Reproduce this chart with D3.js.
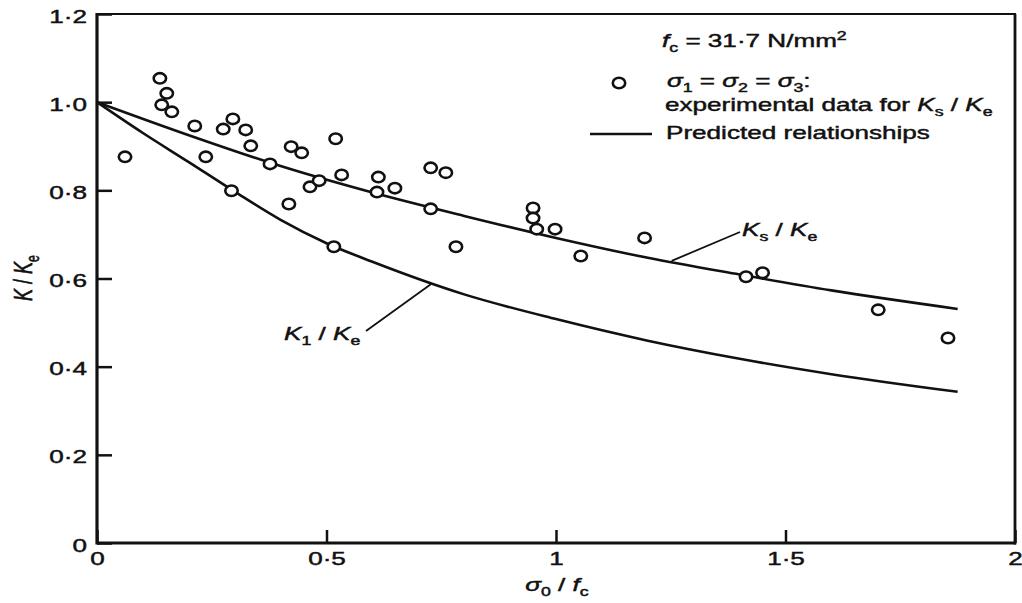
<!DOCTYPE html>
<html>
<head>
<meta charset="utf-8">
<script src="https://cdn.jsdelivr.net/npm/d3@7"></script>
<style>
  html, body { margin: 0; padding: 0; background: #fff; }
  svg { display: block; }
</style>
</head>
<body>
<svg id="chart"></svg>
<script>
// K / Ke against sigma0 / fc: experimental points and two predicted curves

// experimental data for Ks / Ke
const pointX = [0.061, 0.137, 0.152, 0.141, 0.163, 0.213, 0.237, 0.275, 0.296, 0.324,
                0.335, 0.293, 0.377, 0.423, 0.446, 0.418, 0.464, 0.484, 0.520, 0.533,
                0.516, 0.613, 0.610, 0.649, 0.727, 0.760, 0.727, 0.782, 0.950, 0.950,
                0.958, 0.998, 1.054, 1.193, 1.414, 1.450, 1.702, 1.854];
const pointY = [0.876, 1.054, 1.020, 0.994, 0.978, 0.946, 0.876, 0.939, 0.962, 0.937,
                0.901, 0.799, 0.860, 0.899, 0.885, 0.769, 0.808, 0.822, 0.917, 0.835,
                0.672, 0.830, 0.796, 0.805, 0.851, 0.840, 0.758, 0.672, 0.760, 0.737,
                0.712, 0.712, 0.651, 0.692, 0.604, 0.613, 0.529, 0.465];

// predicted relationships
const ksX = [0, 0.2, 0.4, 0.6, 0.8, 1.0, 1.2, 1.4, 1.6, 1.875];
const ksY = [1.0, 0.925, 0.855, 0.795, 0.742, 0.692, 0.647, 0.609, 0.573, 0.531];
const k1X = [0, 0.1, 0.2, 0.3, 0.4, 0.5, 0.6, 0.8, 1.0, 1.2, 1.4, 1.6, 1.875];
const k1Y = [1.0, 0.930, 0.864, 0.797, 0.733, 0.680, 0.638, 0.564, 0.508, 0.459, 0.418, 0.383, 0.343];

const xTicks = [0, 0.5, 1, 1.5, 2];
const yTicks = [0, 0.2, 0.4, 0.6, 0.8, 1.0, 1.2];

const W = 1022, H = 603;
const LEFT = 97, RIGHT = 1015, TOP = 14, BOTTOM = 543;
const INK = '#111';
const FONT = '"Liberation Sans", Arial, Helvetica, sans-serif';
const FS = 18;
const SX = 1.45;   // the scan is stretched sideways
const TEXT_STROKE = 0.45;
const DOT_RX = 6.2, DOT_RY = 5.2;

const svg = d3.select('#chart').attr('width', W).attr('height', H)
    .attr('font-family', FONT).attr('fill', INK);

svg.append('rect').attr('width', W).attr('height', H).attr('fill', '#fff');

const x = d3.scaleLinear().domain([0, 2]).range([LEFT, RIGHT]);
const y = d3.scaleLinear().domain([0, 1.2]).range([BOTTOM, TOP]);

// text built from parts, with italic and sub/superscripts
function richText(parent, tx, ty, parts, anchor, transformTail) {
    const t = parent.append('text')
        .attr('transform', `translate(${tx},${ty}) ${transformTail || `scale(${SX},1)`}`)
        .attr('font-size', FS)
        .attr('text-anchor', anchor || 'start')
        .attr('fill', INK)
        .attr('stroke', INK).attr('stroke-width', TEXT_STROKE);
    let shift = 0;
    parts.forEach(p => {
        const target = p.sub ? 5 : p.sup ? -7 : 0;
        t.append('tspan')
            .attr('dy', target - shift)
            .attr('font-size', (p.sub || p.sup) ? FS * 0.68 : FS)
            .attr('font-style', p.it ? 'italic' : 'normal')
            .text(p.t);
        shift = target;
    });
    return t;
}

// axes
const yAxis = svg.append('g')
    .attr('transform', `translate(${LEFT},0)`)
    .call(d3.axisLeft(y).tickValues(yTicks).tickSizeInner(-15).tickSizeOuter(0)
        .tickFormat(d => d === 0 ? '0' : d.toFixed(1).replace('.', '·')));
yAxis.select('.domain').remove();
yAxis.selectAll('line').attr('stroke', INK).attr('stroke-width', 2.5);
yAxis.selectAll('text')
    .attr('x', null).attr('dy', null)
    .attr('dominant-baseline', 'central')
    .attr('transform', `translate(-10,2) scale(${SX},1)`)
    .attr('font-size', FS).attr('font-family', FONT).attr('fill', INK)
    .attr('stroke', INK).attr('stroke-width', TEXT_STROKE);

const xAxis = svg.append('g')
    .attr('transform', `translate(0,${BOTTOM})`)
    .call(d3.axisBottom(x).tickValues(xTicks).tickSizeInner(-13).tickSizeOuter(0)
        .tickFormat(d => String(d).replace('.', '·')));
xAxis.select('.domain').remove();
xAxis.selectAll('line').attr('stroke', INK).attr('stroke-width', 2.5);
xAxis.selectAll('text')
    .attr('y', null).attr('dy', null)
    .attr('transform', `translate(0,22) scale(${SX},1)`)
    .attr('font-size', FS).attr('font-family', FONT).attr('fill', INK)
    .attr('stroke', INK).attr('stroke-width', TEXT_STROKE);

// frame
const frame = svg.append('g').attr('stroke', INK).attr('fill', 'none');
frame.append('line').attr('x1', LEFT).attr('x2', LEFT).attr('y1', TOP - 1).attr('y2', BOTTOM + 1.5).attr('stroke-width', 3.2);
frame.append('line').attr('x1', LEFT).attr('x2', RIGHT + 1).attr('y1', BOTTOM).attr('y2', BOTTOM).attr('stroke-width', 2.8);
frame.append('line').attr('x1', LEFT).attr('x2', RIGHT + 1).attr('y1', TOP).attr('y2', TOP).attr('stroke-width', 2.2);
frame.append('line').attr('x1', RIGHT).attr('x2', RIGHT).attr('y1', TOP).attr('y2', BOTTOM + 1.5).attr('stroke-width', 2.8);

// predicted curves
const line = d3.line().x(d => x(d[0])).y(d => y(d[1])).curve(d3.curveMonotoneX);
[[ksX, ksY], [k1X, k1Y]].forEach(([xs, ys]) => {
    svg.append('path')
        .attr('d', line(xs.map((v, i) => [v, ys[i]])))
        .attr('fill', 'none').attr('stroke', INK).attr('stroke-width', 2.6);
});

// experimental points
svg.append('g').selectAll('ellipse')
    .data(pointX.map((v, i) => [v, pointY[i]]))
    .join('ellipse')
    .attr('cx', d => x(d[0])).attr('cy', d => y(d[1]))
    .attr('rx', DOT_RX).attr('ry', DOT_RY)
    .attr('fill', '#fff').attr('stroke', INK).attr('stroke-width', 2.6);

// curve labels with leader lines
svg.append('line').attr('x1', x(1.252)).attr('y1', y(0.640)).attr('x2', 740).attr('y2', 232)
    .attr('stroke', INK).attr('stroke-width', 1.8);
richText(svg, 742, 236, [
    { t: 'K', it: true }, { t: 's', sub: true }, { t: ' / ' }, { t: 'K', it: true }, { t: 'e', sub: true }
]);

svg.append('line').attr('x1', x(0.728)).attr('y1', y(0.5875)).attr('x2', 366).attr('y2', 331)
    .attr('stroke', INK).attr('stroke-width', 1.8);
richText(svg, 284, 340, [
    { t: 'K', it: true }, { t: '1', sub: true }, { t: ' / ' }, { t: 'K', it: true }, { t: 'e', sub: true }
]);

// axis titles
richText(svg, 557, 591, [
    { t: 'σ', it: true }, { t: '0', sub: true }, { t: ' / ' }, { t: 'f', it: true }, { t: 'c', sub: true }
], 'middle');

richText(svg, 32, 278, [
    { t: 'K', it: true }, { t: ' / ' }, { t: 'K', it: true }, { t: 'e', sub: true }
], 'middle', `rotate(-90) scale(1,${SX})`);

// legend
const legend = svg.append('g');
richText(legend, 662, 47, [
    { t: 'f', it: true }, { t: 'c', sub: true }, { t: ' = 31·7 N/mm' }, { t: '2', sup: true }
]);
legend.append('ellipse').attr('cx', 619).attr('cy', 83).attr('rx', DOT_RX).attr('ry', DOT_RY)
    .attr('fill', '#fff').attr('stroke', INK).attr('stroke-width', 2.6);
richText(legend, 667, 87, [
    { t: 'σ', it: true }, { t: '1', sub: true }, { t: ' = ' },
    { t: 'σ', it: true }, { t: '2', sub: true }, { t: ' = ' },
    { t: 'σ', it: true }, { t: '3', sub: true }, { t: ':' }
]);
richText(legend, 665, 111, [
    { t: 'experimental data for ' }, { t: 'K', it: true }, { t: 's', sub: true },
    { t: ' / ' }, { t: 'K', it: true }, { t: 'e', sub: true }
]);
legend.append('line').attr('x1', 590).attr('x2', 652).attr('y1', 134).attr('y2', 134)
    .attr('stroke', INK).attr('stroke-width', 2.4);
richText(legend, 666, 139, [{ t: 'Predicted relationships' }]);
</script>
</body>
</html>
